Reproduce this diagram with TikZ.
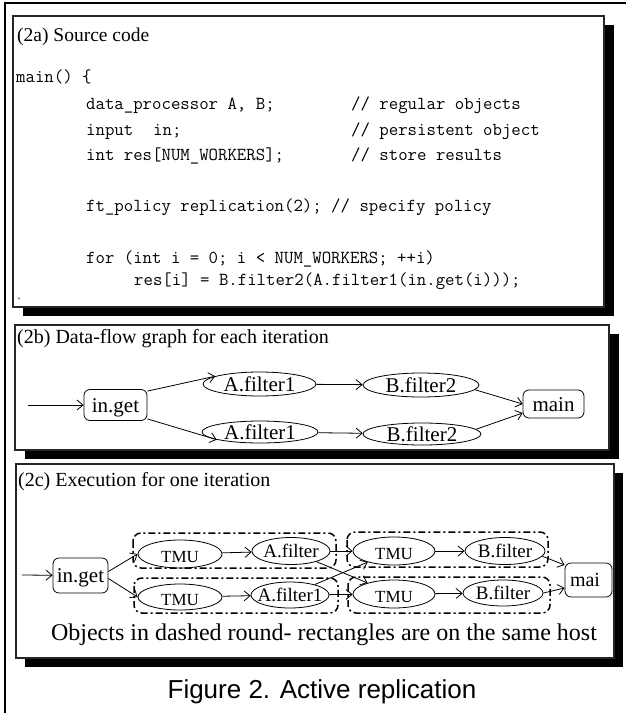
\documentclass[tikz,border=0pt]{standalone}
\usepackage{fontspec}
\setmainfont{Liberation Serif}
\newfontfamily\capfont{Liberation Sans}
\usetikzlibrary{arrows.meta,shapes.geometric}
\newcommand{\sm}[1]{\makebox[0pt]{\smash{\raisebox{-0.34em}{#1}}}}
\begin{document}
\begin{tikzpicture}[x=1pt,y=-1pt,
  panel/.style={draw=black!85, line width=1.1pt, fill=white},
  shadebox/.style={fill=black},
  paneltitle/.style={anchor=west, inner sep=0pt, font=\fontsize{20}{24}\selectfont},
  codeline/.style={anchor=base west, inner sep=0pt, font=\ttfamily\fontsize{18.3}{20}\selectfont},
  ell/.style={draw, ellipse, inner sep=0pt, line width=0.8pt},
  rbox/.style={draw, rounded corners=6pt, inner sep=0pt, line width=0.8pt},
  arr/.style={-{Straight Barb[length=6pt,width=10pt]}, line width=0.8pt},
  host/.style={draw, rounded corners=8pt, line width=1.5pt, dash pattern=on 7pt off 3pt on 2pt off 3pt},
  lblb/.style={font=\fontsize{21}{24}\selectfont},
  lblc/.style={font=\fontsize{19}{22}\selectfont},
  tmul/.style={font=\fontsize{17}{20}\selectfont}
]
\fill[white] (0,0) rectangle (626,713);
\useasboundingbox (0,0) rectangle (626,713);
% outer frame
\draw[line width=2pt] (5,713) -- (5,3) -- (626,3);

% ---------- (2a)
\fill[shadebox] (23,25) rectangle (614,316);
\draw[panel] (13,16) rectangle (604,307);
\node[paneltitle, font=\fontsize{19.5}{24}\selectfont] (ta) at (17,37) {(2a) Source code};
\node[codeline] (c1) at (16,82) {main() \{};
\node[codeline] (c2) at (86,109) {data\_processor A, B;};
\node[codeline] (c2c) at (351,109) {// regular objects};
\node[codeline] (c3) at (86,135) {input};
\node[codeline] (c3b) at (153,135) {in;};
\node[codeline] (c3c) at (351,135) {// persistent object};
\node[codeline] (c4) at (86,160) {int res[NUM\_WORKERS];};
\node[codeline] (c4c) at (351,160) {// store results};
\node[codeline] (c5) at (86,211) {ft\_policy replication(2); // specify policy};
\node[codeline] (c6) at (86,263) {for (int i = 0; i < NUM\_WORKERS; ++i)};
\node[codeline] (c7) at (134,285) {res[i] = B.filter2(A.filter1(in.get(i)));};
\node[inner sep=0pt, font=\fontsize{12}{12}\selectfont] (tick) at (19,302) {\textasciigrave};

% ---------- (2b)
\fill[shadebox] (25,334) rectangle (619,459);
\draw[panel] (15,325) rectangle (609,450);
\node[paneltitle] (tb) at (17,339) {(2b) Data-flow graph for each iteration};
\coordinate (s2) at (28,405);
\node[rbox, lblb, minimum width=63, minimum height=31] (ig) at (115.5,405) {\sm{in.get}};
\node[ell, lblb, minimum width=113, minimum height=24] (fa1) at (259.5,384) {\sm{A.filter1}};
\node[ell, lblb, minimum width=116, minimum height=24] (fb1) at (421,385) {\sm{B.filter2}};
\node[rbox, lblb, minimum width=61, minimum height=28] (mn) at (553.5,404) {\sm{main}};
\node[ell, lblb, minimum width=116, minimum height=22] (fa2) at (260,432) {\sm{A.filter1}};
\node[ell, lblb, minimum width=118, minimum height=22] (fb2) at (422,434) {\sm{B.filter2}};
\draw[arr] (s2) -- (ig);
\draw[arr] ([yshift=-2pt]ig.north east) -- (fa1.170);
\draw[arr] ([yshift=2pt]ig.south east) -- (fa2.190);
\draw[arr] (fa1) -- (fb1);
\draw[arr] (fa2) -- (fb2);
\draw[arr] (fb1.-5) -- (mn.west);
\draw[arr] (fb2.5) -- ([yshift=-9pt]mn.west);

% ---------- (2c)
\fill[shadebox] (25,473) rectangle (623,667);
\draw[panel] (16,464) rectangle (614,658);
\node[paneltitle] (tc) at (18,482) {(2c) Execution for one iteration};
\coordinate (s3) at (22,575);
\node[rbox, lblb, minimum width=55, minimum height=35] (ig3) at (80.5,575.5) {\sm{in.get}};
\draw[host] (133,533) rectangle (336,568);
\draw[host] (134,578) rectangle (338,613);
\draw[host] (347,532) rectangle (548,567);
\draw[host] (348,577) rectangle (550,613);
\node[ell, tmul, minimum width=84, minimum height=28] (tmu1) at (180,554) {\sm{\raisebox{-3pt}{TMU}}};
\node[ell, lblc, minimum width=78, minimum height=27] (fa) at (291,551) {\sm{A.filter}};
\node[ell, tmul, minimum width=84, minimum height=26] (tmu2) at (180,597) {\sm{\raisebox{-3pt}{TMU}}};
\node[ell, lblc, minimum width=78, minimum height=26] (fab) at (290,595) {\sm{A.filter1}};
\node[ell, tmul, minimum width=82, minimum height=28] (tmu3) at (394,551) {\sm{\raisebox{-3pt}{TMU}}};
\node[ell, lblc, minimum width=80, minimum height=27] (fb) at (505,551) {\sm{B.filter}};
\node[ell, tmul, minimum width=82, minimum height=28] (tmu4) at (394,594) {\sm{\raisebox{-3pt}{TMU}}};
\node[ell, lblc, minimum width=80, minimum height=26] (fbb) at (503,593) {\sm{B.filter}};
\node[rbox, minimum width=47, minimum height=34, font=\fontsize{20}{24}\selectfont] (mai) at (588.5,580) {\sm{mai\hspace{7pt}}};
\draw[arr] (s3) -- (ig3);
\draw[arr] ([yshift=4pt]ig3.east) -- (tmu1.west);
\draw[arr] ([yshift=-3pt]ig3.east) -- (tmu2.west);
\draw[arr] (tmu1) -- (fa);
\draw[arr] (tmu2) -- (fab);
\draw[arr] (fa) -- (tmu3);
\draw[arr] (fa) -- (tmu4);
\draw[arr] (fab) -- (tmu3);
\draw[arr] (fab) -- (tmu4);
\draw[arr] (tmu3) -- (fb);
\draw[arr] (tmu4) -- (fbb);
\draw[arr] (fb.-8) -- ([yshift=15pt]mai.west);
\draw[arr] (fbb.east) -- ([yshift=-8pt]mai.west);
\node[inner sep=0pt, font=\fontsize{24}{28}\selectfont] (note) at (324,635) {Objects in dashed round- rectangles are on the same host};

\node[inner sep=0pt, font=\capfont\fontsize{26}{30}\selectfont] (fig) at (322,692) {Figure 2. Active replication};
\end{tikzpicture}
\end{document}
